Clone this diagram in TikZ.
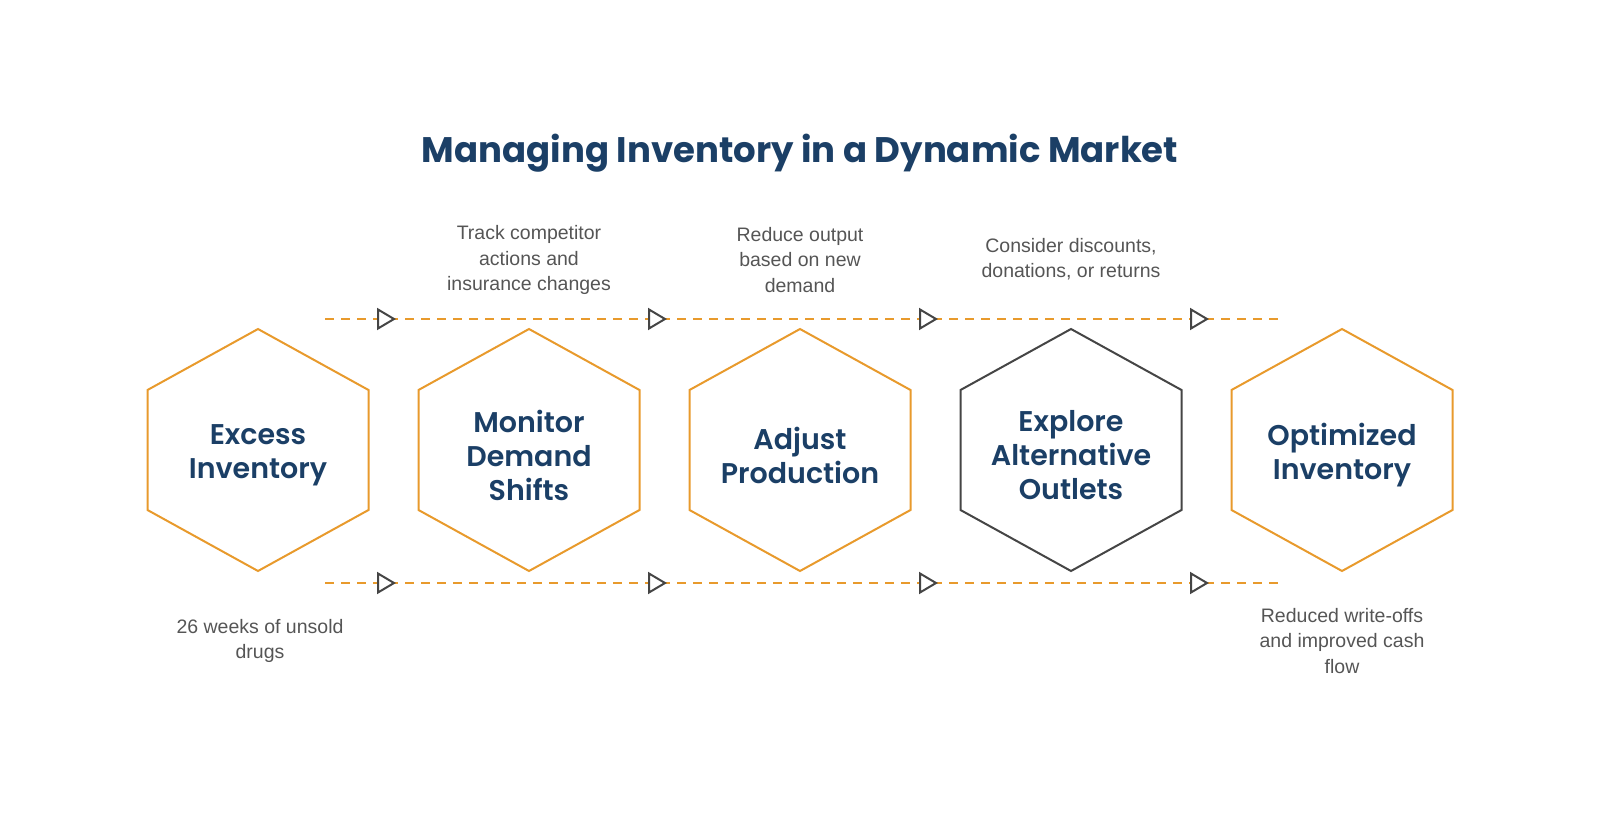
\documentclass[tikz,border=0pt]{standalone}
\usepackage{fontspec}
\setmainfont{Liberation Sans}
\newfontfamily\headfont{Poppins}[UprightFont=* SemiBold,BoldFont=* Bold]
\usetikzlibrary{calc}
\definecolor{navy}{HTML}{1B3F66}
\definecolor{orng}{HTML}{E89A2C}
\definecolor{dgray}{HTML}{454545}
\definecolor{tgray}{HTML}{555555}
\begin{document}
\begin{tikzpicture}[x=1pt,y=-1pt,
  hex/.style={line width=2pt,line join=miter},
  htxt/.style={font=\headfont\fontsize{28.5}{34}\selectfont,text=navy,align=center},
  note/.style={font=\fontsize{19.5}{25.5}\selectfont,text=tgray,align=center},
  flowline/.style={orng,line width=2pt,dash pattern=on 9pt off 7pt},
  tri/.style={dgray,line width=2pt,fill=white,line join=miter}]
\useasboundingbox (0,0) rectangle (1600,840);
\node[font=\headfont\bfseries\fontsize{35.5}{42}\selectfont,text=navy] (title) at (800,153) {Managing Inventory in a Dynamic Market};
\foreach \i/\x/\c in {1/258/orng,2/529/orng,3/800/orng,4/1071/dgray,5/1342/orng}{
  \draw[hex,\c] (\x,329) -- (\x+110.5,390) -- (\x+110.5,510) -- (\x,571) -- (\x-110.5,510) -- (\x-110.5,390) -- cycle;
  \coordinate (h\i) at (\x,455);
}
\node[htxt] (t1) at (h1) {Excess\\Inventory};
\node[htxt] (t2) at (h2) {Monitor\\Demand\\Shifts};
\node[htxt] (t3) at (h3) {Adjust\\Production};
\node[htxt] (t4) at (h4) {Explore\\Alternative\\Outlets};
\node[htxt] (t5) at (h5) {Optimized\\Inventory};
\foreach \y in {319,583}{
  \coordinate (ls) at (325,\y); \coordinate (le) at (1278,\y);
  \draw[flowline] (ls) -- (le);
  \foreach \x in {394,665,936,1207}{
    \draw[tri] (\x-16,\y-9.5) -- (\x,\y) -- (\x-16,\y+9.5) -- cycle;
  }
}
\node[note] (n2) at (529,260) {Track competitor\\actions and\\insurance changes};
\node[note] (n3) at (800,260) {Reduce output\\based on new\\demand};
\node[note] (n4) at (1071,259) {Consider discounts,\\donations, or returns};
\node[note] (n1) at (260,641) {26 weeks of unsold\\drugs};
\node[note] (n5) at (1342,641) {Reduced write-offs\\and improved cash\\flow};
\end{tikzpicture}
\end{document}
